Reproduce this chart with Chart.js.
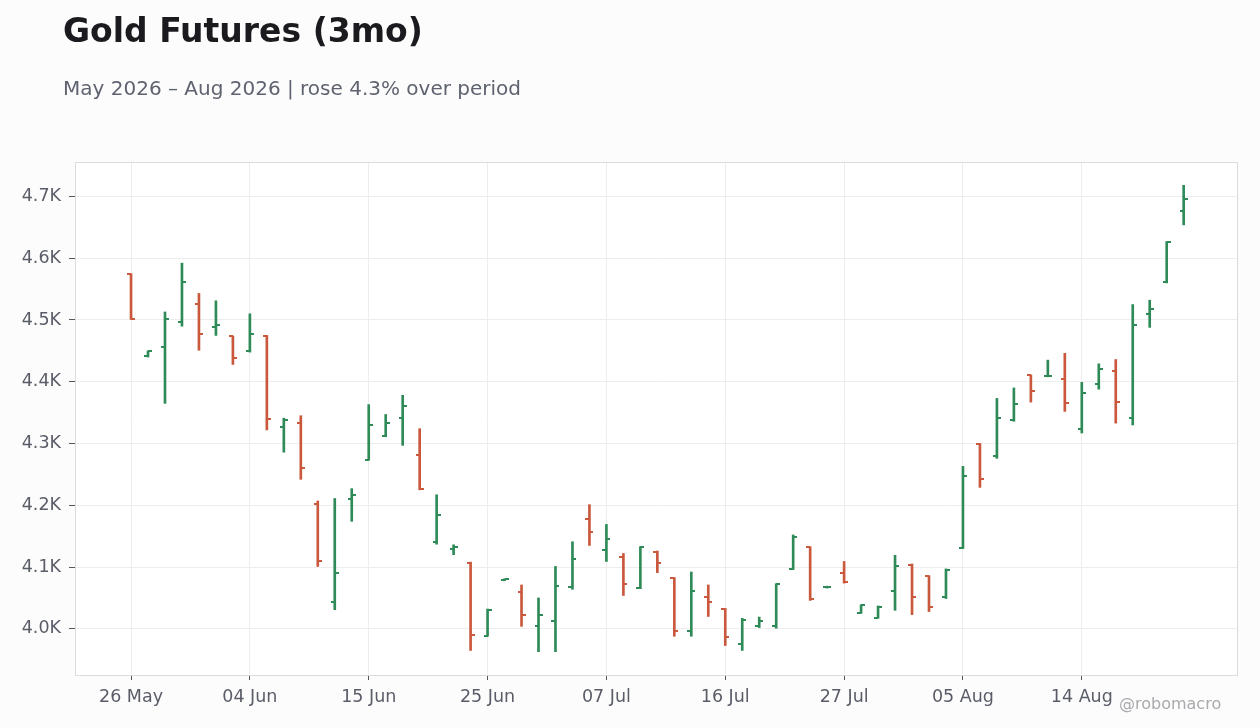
<!DOCTYPE html>
<html>
<head>
<meta charset="utf-8">
<script src="https://cdn.jsdelivr.net/npm/chart.js@4.4.1/dist/chart.umd.min.js"></script>
<style>
  html, body { margin: 0; padding: 0; background: #fcfcfc; }
  body { width: 1260px; height: 728px; position: relative; overflow: hidden; font-family: "DejaVu Sans", sans-serif; }
  #title { position: absolute; left: 63px; top: 14px; font-size: 33px; line-height: 33px; font-weight: bold; color: #1b1b1f; white-space: nowrap; }
  #subtitle { position: absolute; left: 63px; top: 78px; font-size: 20px; line-height: 20px; color: #5f6370; white-space: nowrap; }
  #credit { position: absolute; left: 1119px; top: 696px; font-size: 16px; line-height: 16px; color: #a9a9ae; white-space: nowrap; }
  #wrap { position: absolute; left: 0; top: 0; width: 1260px; height: 728px; }
</style>
</head>
<body>
<div id="wrap"><canvas id="chart"></canvas></div>
<div id="title">Gold Futures (3mo)</div>
<div id="subtitle">May 2026 – Aug 2026 | rose 4.3% over period</div>
<div id="credit">@robomacro</div>
<script>
// trading days shown on the x axis (one bar each)
const dates = [
  '26 May', '27 May', '28 May', '29 May', '01 Jun', '02 Jun', '03 Jun', '04 Jun', '05 Jun',
  '08 Jun', '09 Jun', '10 Jun', '11 Jun', '12 Jun', '15 Jun', '16 Jun', '17 Jun', '18 Jun',
  '22 Jun', '23 Jun', '24 Jun', '25 Jun', '26 Jun', '29 Jun', '30 Jun', '01 Jul', '02 Jul',
  '06 Jul', '07 Jul', '08 Jul', '09 Jul', '10 Jul', '13 Jul', '14 Jul', '15 Jul', '16 Jul',
  '17 Jul', '20 Jul', '21 Jul', '22 Jul', '23 Jul', '24 Jul', '27 Jul', '28 Jul', '29 Jul',
  '30 Jul', '31 Jul', '03 Aug', '04 Aug', '05 Aug', '06 Aug', '07 Aug', '10 Aug', '11 Aug',
  '12 Aug', '13 Aug', '14 Aug', '17 Aug', '18 Aug', '19 Aug', '20 Aug', '21 Aug', '24 Aug'
];

const open = [
  4574, 4441, 4456, 4496, 4526, 4489, 4474, 4449, 4474, 4326, 4334, 4202, 4044, 4210, 4273, 4312,
  4341, 4281, 4140, 4129, 4106, 3989, 4079, 4059, 4004, 4013, 4068, 4177, 4127, 4117, 4066, 4124,
  4082, 3997, 4051, 4032, 3976, 4004, 4004, 4097, 4132, 4067, 4091, 4026, 4018, 4062, 4104, 4085,
  4052, 4131, 4299, 4279, 4338, 4411, 4409, 4405, 4323, 4396, 4417, 4341, 4509, 4561, 4676
];
const high = [
  4575, 4450, 4513, 4592, 4543, 4531, 4474, 4510, 4475, 4341, 4345, 4207, 4211, 4227, 4363, 4347,
  4378, 4324, 4217, 4136, 4108, 4032, 4081, 4071, 4050, 4101, 4141, 4201, 4169, 4122, 4133, 4126,
  4083, 4092, 4071, 4033, 4017, 4019, 4073, 4152, 4133, 4069, 4109, 4039, 4037, 4119, 4105, 4086,
  4097, 4263, 4300, 4373, 4390, 4411, 4435, 4446, 4399, 4429, 4436, 4525, 4532, 4627, 4718
];
const low = [
  4501, 4440, 4365, 4490, 4451, 4475, 4428, 4448, 4322, 4286, 4242, 4101, 4031, 4174, 4273, 4311,
  4297, 4225, 4137, 4120, 3965, 3988, 4078, 4004, 3963, 3963, 4064, 4135, 4109, 4054, 4065, 4091,
  3988, 3988, 4020, 3973, 3965, 4002, 4001, 4096, 4046, 4066, 4074, 4025, 4017, 4030, 4023, 4028,
  4049, 4130, 4229, 4276, 4336, 4367, 4408, 4352, 4317, 4388, 4333, 4330, 4488, 4560, 4654
];
const close = [
  4502, 4449, 4501, 4562, 4477, 4492, 4438, 4477, 4339, 4338, 4261, 4109, 4091, 4216, 4330, 4333,
  4360, 4226, 4184, 4132, 3990, 4031, 4080, 4023, 4023, 4070, 4113, 4156, 4146, 4072, 4132, 4106,
  3997, 4062, 4044, 3986, 4014, 4012, 4072, 4148, 4048, 4068, 4075, 4038, 4036, 4101, 4051, 4035,
  4096, 4247, 4243, 4342, 4364, 4385, 4410, 4365, 4381, 4420, 4368, 4492, 4517, 4626, 4696
];

// axis ticks
const xTickIndex = [0, 7, 14, 21, 28, 35, 42, 49, 56];
const yTickValues = [4000, 4100, 4200, 4300, 4400, 4500, 4600, 4700];

const UP = '#2e8b57';
const DOWN = '#c9583c';
const isUp = i => close[i] >= open[i];

// y range padded 5% around the data
const yLo = Math.min(...low);
const yHi = Math.max(...high);
const yPad = (yHi - yLo) * 0.05;

// white plot area with a thin frame
const plotFrame = {
  id: 'plotFrame',
  beforeDraw(chart) {
    const { ctx, chartArea: a } = chart;
    ctx.save();
    ctx.fillStyle = '#ffffff';
    ctx.fillRect(a.left, a.top, a.right - a.left, a.bottom - a.top);
    ctx.restore();
  },
  afterDraw(chart) {
    const { ctx, chartArea: a } = chart;
    ctx.save();
    ctx.strokeStyle = '#dcdcdc';
    ctx.lineWidth = 1;
    ctx.strokeRect(a.left + 0.5, a.top + 0.5, a.right - a.left - 1, a.bottom - a.top);
    ctx.restore();
  },
};

// open tick to the left and close tick to the right of each high-low bar
const ohlcTicks = {
  id: 'ohlcTicks',
  afterDatasetsDraw(chart) {
    const { ctx, scales: { y } } = chart;
    const bars = chart.getDatasetMeta(0).data;
    ctx.save();
    bars.forEach((bar, i) => {
      const x = Math.round(bar.x);
      ctx.fillStyle = isUp(i) ? UP : DOWN;
      ctx.fillRect(x - 4, Math.round(y.getPixelForValue(open[i])) - 1, 4, 2);
      ctx.fillRect(x, Math.round(y.getPixelForValue(close[i])) - 1, 4, 2);
    });
    ctx.restore();
  },
};

const tickFont = { family: '"DejaVu Sans", sans-serif', size: 17.5 };

new Chart(document.getElementById('chart'), {
  type: 'bar',
  data: {
    datasets: [
      {
        data: dates.map((d, i) => ({ x: i, y: [low[i], high[i]] })),
        backgroundColor: c => (isUp(c.dataIndex) ? UP : DOWN),
        borderWidth: 0,
        barThickness: 2,
        grouped: false,
      },
    ],
  },
  options: {
    responsive: true,
    maintainAspectRatio: false,
    animation: false,
    events: [],
    layout: { padding: { top: 162, left: 20, right: 22, bottom: 0 } },
    plugins: { legend: { display: false }, tooltip: { enabled: false } },
    scales: {
      x: {
        type: 'linear',
        min: -3.3,
        max: 65.2,
        offset: false,
        afterBuildTicks: axis => { axis.ticks = xTickIndex.map(v => ({ value: v })); },
        afterFit: axis => { axis.height = 53; },
        grid: { color: '#ededed', tickColor: '#555', tickLength: 5, offset: false },
        border: { display: false },
        ticks: { font: tickFont, color: '#5a5d68', padding: 7, maxRotation: 0, autoSkip: false,
          callback: v => dates[v] },
      },
      y: {
        type: 'linear',
        min: yLo - yPad,
        max: yHi + yPad,
        afterBuildTicks: axis => { axis.ticks = yTickValues.map(v => ({ value: v })); },
        afterFit: axis => { axis.width = 55; },
        grid: { color: '#ededed', tickColor: '#555', tickLength: 6 },
        border: { display: false },
        ticks: { font: tickFont, color: '#5a5d68', padding: 8,
          callback: v => (v / 1000).toFixed(1) + 'K' },
      },
    },
  },
  plugins: [plotFrame, ohlcTicks],
});
</script>
</body>
</html>
